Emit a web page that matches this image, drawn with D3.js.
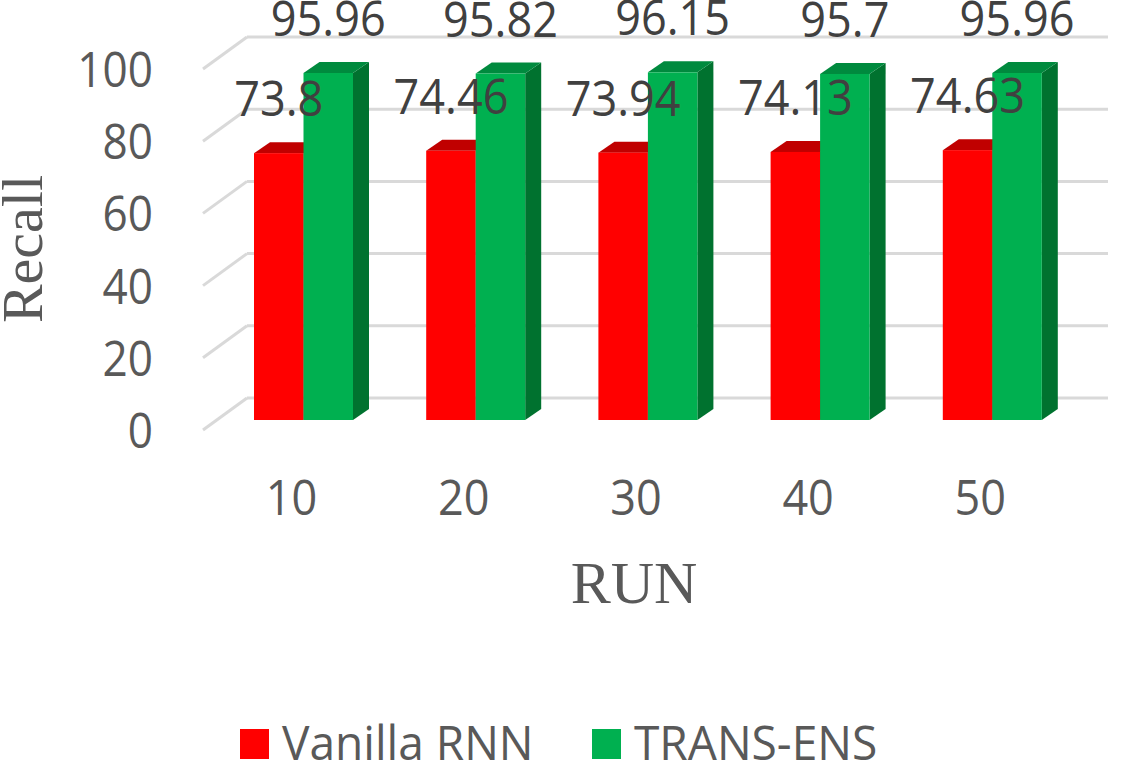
<!DOCTYPE html>
<html lang="en">
<head>
<meta charset="utf-8">
<title>Recall by run</title>
<script src="https://cdn.jsdelivr.net/npm/d3@7"></script>
<style>
  body { margin: 0; background: #fff; }
  svg { display: block; }
</style>
</head>
<body>
<svg id="chart" width="1126" height="761"></svg>
<script>
// data
var runs = ["10", "20", "30", "40", "50"];
var vanillaRnn = [73.8, 74.46, 73.94, 74.13, 74.63];
var transEns = [95.96, 95.82, 96.15, 95.7, 95.96];
var seriesNames = ["Vanilla RNN", "TRANS-ENS"];
var yTicks = [0, 20, 40, 60, 80, 100];

var seriesFront = ["#ff0000", "#00b050"];
var seriesTop = ["#c00000", "#008a3e"];
var seriesSide = ["#a00000", "#00722f"];

var svg = d3.select("#chart");

// glyphs in the picture are a bit narrow, so squeeze them a little
function label(g, x, y, str, size, anchor, color, squeeze) {
  squeeze = squeeze || 0.9;
  return g.append("text")
    .attr("transform", "translate(" + x + "," + y + ") scale(" + squeeze + ",1)")
    .attr("text-anchor", anchor)
    .attr("font-family", "'Open Sans', 'Noto Sans', sans-serif")
    .attr("font-size", size)
    .attr("fill", color)
    .text(str);
}

// back wall grid and floor depth
var wallDx = 44, wallDy = 32;
var yBack = d3.scaleLinear().domain([0, 100]).range([398, 37]);
var yBar = d3.scaleLinear().domain([0, 100]).range([420, 58.4]);
var wallLeft = 247, wallRight = 1108;

var x = d3.scaleBand().domain(runs).range([217.4, 1078.4]);
var xs = d3.scaleBand().domain(seriesNames).range([36.6, 135.6]);
var barDx = 16, barDy = 11;

var grid = svg.append("g");
yTicks.forEach(function(t) {
  grid.append("line")
    .attr("x1", wallLeft).attr("x2", wallRight)
    .attr("y1", yBack(t)).attr("y2", yBack(t))
    .attr("stroke", "#d9d9d9").attr("stroke-width", 3);
  grid.append("line")
    .attr("x1", wallLeft - wallDx).attr("x2", wallLeft)
    .attr("y1", yBack(t) + wallDy).attr("y2", yBack(t))
    .attr("stroke", "#d9d9d9").attr("stroke-width", 3);
});

// y tick labels
var yAxisG = svg.append("g");
yTicks.forEach(function(t) {
  label(yAxisG, 153, yBack(t) + wallDy + 18, t, 49, "end", "#595959");
});

// 3d bars
var bars = svg.append("g");
runs.forEach(function(r, i) {
  var vals = [vanillaRnn[i], transEns[i]];
  seriesNames.forEach(function(s, k) {
    var x0 = x(r) + xs(s), w = xs.bandwidth();
    var yt = yBar(vals[k]), yb = yBar(0);
    // side
    bars.append("path")
      .attr("d", "M" + (x0 + w) + "," + yt + "L" + (x0 + w + barDx) + "," + (yt - barDy) +
        "L" + (x0 + w + barDx) + "," + (yb - barDy) + "L" + (x0 + w) + "," + yb + "Z")
      .attr("fill", seriesSide[k]);
    // top
    bars.append("path")
      .attr("d", "M" + x0 + "," + yt + "L" + (x0 + barDx) + "," + (yt - barDy) +
        "L" + (x0 + w + barDx) + "," + (yt - barDy) + "L" + (x0 + w) + "," + yt + "Z")
      .attr("fill", seriesTop[k]);
    // front
    bars.append("rect")
      .attr("x", x0).attr("y", yt)
      .attr("width", w).attr("height", yb - yt)
      .attr("fill", seriesFront[k]);
  });
});

// data labels
var dl = svg.append("g");
runs.forEach(function(r, i) {
  var vals = [vanillaRnn[i], transEns[i]];
  seriesNames.forEach(function(s, k) {
    label(dl, x(r) + xs(s) + xs.bandwidth() / 2, yBar(vals[k]) - 37, vals[k], 49, "middle", "#404040", 0.92);
  });
});

// x tick labels
var xAxisG = svg.append("g");
runs.forEach(function(r) {
  label(xAxisG, x(r) + x.bandwidth() / 2 - 12, 515, r, 50, "middle", "#595959");
});

// axis titles
svg.append("text")
  .attr("transform", "translate(42,249) rotate(-90)")
  .attr("text-anchor", "middle")
  .attr("font-family", "'Liberation Serif', 'Times New Roman', serif")
  .attr("font-size", 58).attr("fill", "#595959")
  .text("Recall");
svg.append("text")
  .attr("x", 634).attr("y", 603)
  .attr("text-anchor", "middle")
  .attr("font-family", "'Liberation Serif', 'Times New Roman', serif")
  .attr("font-size", 60).attr("fill", "#595959")
  .text("RUN");

// legend
var legendX = [240, 592];
var lg = svg.append("g");
seriesNames.forEach(function(s, k) {
  lg.append("rect")
    .attr("x", legendX[k]).attr("y", 729)
    .attr("width", 29).attr("height", 30)
    .attr("fill", seriesFront[k]);
  label(lg, legendX[k] + 42, 760, s, 48, "start", "#595959", 0.96);
});
</script>
</body>
</html>
